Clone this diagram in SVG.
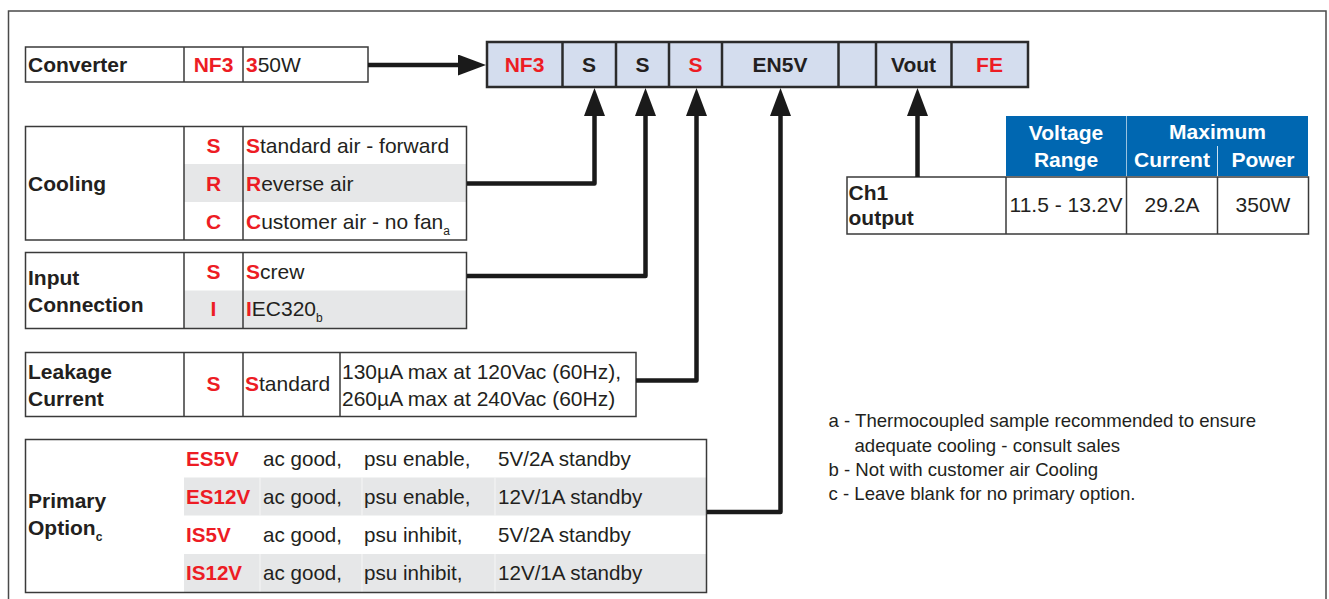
<svg xmlns="http://www.w3.org/2000/svg" width="1329" height="599" viewBox="0 0 1329 599">
<defs>
<style>
.t{font-family:"Liberation Sans",Arial,Helvetica,sans-serif;font-size:21px;fill:#231f20}
.b{font-weight:bold}
.r{fill:#ed1c24}
.w{fill:#ffffff}
.m{text-anchor:middle}
.p{font-size:20.6px}
.n{font-size:18.6px}
.sub{font-size:12px}
.box{fill:none;stroke:#3a3a3a;stroke-width:1.5}
.ln{stroke:#3a3a3a;stroke-width:1.5}
.g{fill:#e6e7e8}
.con{fill:none;stroke:#1a1a1a;stroke-width:4.5;stroke-linejoin:round}
</style>
<marker id="ah" viewBox="0 0 28 21" refX="18" refY="10.5" markerWidth="28" markerHeight="21" markerUnits="userSpaceOnUse" orient="auto">
<path d="M0,0 L28,10.5 L0,21 Z" fill="#1a1a1a"/>
</marker>
</defs>
<rect width="1329" height="599" fill="#ffffff"/>
<rect x="8.5" y="11" width="1317.5" height="600" fill="none" stroke="#4a4a4a" stroke-width="1.5"/>

<g id="converter">
<rect class="box" x="25.5" y="47" width="342.5" height="35"/>
<line class="ln" x1="184" y1="47" x2="184" y2="82"/>
<line class="ln" x1="243" y1="47" x2="243" y2="82"/>
<text class="t b" x="28" y="72">Converter</text>
<text class="t b r m" x="213.5" y="72">NF3</text>
<text class="t" x="246" y="72"><tspan class="b r">3</tspan>50W</text>
</g>

<g id="codebar">
<rect x="487" y="42" width="541" height="45" fill="#d4ddee" stroke="#2b2b2b" stroke-width="2.5"/>
<g stroke="#2b2b2b" stroke-width="2.5">
<line x1="562.5" y1="42" x2="562.5" y2="87"/>
<line x1="616" y1="42" x2="616" y2="87"/>
<line x1="669" y1="42" x2="669" y2="87"/>
<line x1="722" y1="42" x2="722" y2="87"/>
<line x1="838.5" y1="42" x2="838.5" y2="87"/>
<line x1="876" y1="42" x2="876" y2="87"/>
<line x1="951.5" y1="42" x2="951.5" y2="87"/>
</g>
<text class="t b r m" x="524.5" y="72">NF3</text>
<text class="t b m" x="589" y="72">S</text>
<text class="t b m" x="642.5" y="72">S</text>
<text class="t b r m" x="695.5" y="72">S</text>
<text class="t b m" x="780" y="72">EN5V</text>
<text class="t b m" x="913.5" y="72">Vout</text>
<text class="t b r m" x="989.5" y="72">FE</text>
</g>

<g id="cooling">
<rect class="g" x="184" y="164" width="282.5" height="38"/>
<rect class="box" x="25.5" y="126.5" width="441" height="113.5"/>
<line class="ln" x1="184" y1="126.5" x2="184" y2="240"/>
<line class="ln" x1="243" y1="126.5" x2="243" y2="240"/>
<text class="t b" x="28" y="191">Cooling</text>
<text class="t b r m" x="213.5" y="152.5">S</text>
<text class="t b r m" x="213.5" y="191">R</text>
<text class="t b r m" x="213.5" y="228.5">C</text>
<text class="t" x="246" y="152.5"><tspan class="b r">S</tspan>tandard air - forward</text>
<text class="t" x="246" y="191"><tspan class="b r">R</tspan>everse air</text>
<text class="t" x="246" y="228.5"><tspan class="b r">C</tspan>ustomer air - no fan<tspan class="sub" dy="6">a</tspan></text>
</g>

<g id="input">
<rect class="g" x="184" y="290.5" width="282.5" height="38"/>
<rect class="box" x="25.5" y="252.5" width="441" height="76"/>
<line class="ln" x1="184" y1="252.5" x2="184" y2="328.5"/>
<line class="ln" x1="243" y1="252.5" x2="243" y2="328.5"/>
<text class="t b" x="28" y="284.5">Input</text>
<text class="t b" x="28" y="312">Connection</text>
<text class="t b r m" x="213.5" y="278.5">S</text>
<text class="t b r m" x="213.5" y="316">I</text>
<text class="t" x="246" y="278.5"><tspan class="b r">S</tspan>crew</text>
<text class="t" x="246" y="316"><tspan class="b r">I</tspan>EC320<tspan class="sub" dy="6">b</tspan></text>
</g>

<g id="leakage">
<rect class="box" x="25.5" y="352.5" width="610.5" height="64"/>
<line class="ln" x1="184" y1="352.5" x2="184" y2="416.5"/>
<line class="ln" x1="243" y1="352.5" x2="243" y2="416.5"/>
<line class="ln" x1="340" y1="352.5" x2="340" y2="416.5"/>
<text class="t b" x="28" y="378.5">Leakage</text>
<text class="t b" x="28" y="406">Current</text>
<text class="t b r m" x="213.5" y="391">S</text>
<text class="t" x="245" y="391"><tspan class="b r">S</tspan>tandard</text>
<text class="t" x="342" y="378.5">130µA max at 120Vac (60Hz),</text>
<text class="t" x="342" y="406">260µA max at 240Vac (60Hz)</text>
</g>

<g id="primary">
<rect class="g" x="184" y="477.5" width="522.5" height="38"/>
<rect class="g" x="184" y="554" width="522.5" height="38"/>
<g stroke="#f6f6f6" stroke-width="1">
<line x1="260" y1="477.5" x2="260" y2="515.5"/>
<line x1="362" y1="477.5" x2="362" y2="515.5"/>
<line x1="495" y1="477.5" x2="495" y2="515.5"/>
<line x1="260" y1="554" x2="260" y2="592"/>
<line x1="362" y1="554" x2="362" y2="592"/>
<line x1="495" y1="554" x2="495" y2="592"/>
</g>
<rect class="box" x="25.5" y="439.5" width="681" height="153"/>
<text class="t b" x="28" y="507.5">Primary</text>
<text class="t b" x="28" y="534.5">Option<tspan class="sub" dy="6">c</tspan></text>
<text class="t p b r" x="186" y="466">ES5V</text>
<text class="t p b r" x="186" y="503.5">ES12V</text>
<text class="t p b r" x="186" y="542">IS5V</text>
<text class="t p b r" x="186" y="580">IS12V</text>
<text class="t p" x="263" y="466">ac good,</text>
<text class="t p" x="263" y="503.5">ac good,</text>
<text class="t p" x="263" y="542">ac good,</text>
<text class="t p" x="263" y="580">ac good,</text>
<text class="t p" x="364" y="466">psu enable,</text>
<text class="t p" x="364" y="503.5">psu enable,</text>
<text class="t p" x="364" y="542">psu inhibit,</text>
<text class="t p" x="364" y="580">psu inhibit,</text>
<text class="t p" x="498" y="466">5V/2A standby</text>
<text class="t p" x="498" y="503.5">12V/1A standby</text>
<text class="t p" x="498" y="542">5V/2A standby</text>
<text class="t p" x="498" y="580">12V/1A standby</text>
</g>

<g id="ch1table">
<rect x="1006" y="116" width="302" height="60" fill="#0067b1"/>
<line x1="1126.5" y1="116" x2="1126.5" y2="176" stroke="#ffffff" stroke-width="1" opacity="0.6"/>
<line x1="1217.5" y1="146" x2="1217.5" y2="176" stroke="#ffffff" stroke-width="1" opacity="0.8"/>
<text class="t b w m" x="1066" y="140">Voltage</text>
<text class="t b w m" x="1066" y="166.5">Range</text>
<text class="t b w m" x="1217.5" y="138.5">Maximum</text>
<text class="t b w m" x="1172" y="166.5">Current</text>
<text class="t b w m" x="1263" y="166.5">Power</text>
<rect class="box" x="847" y="177" width="461.5" height="57"/>
<line class="ln" x1="1006" y1="177" x2="1006" y2="234"/>
<line class="ln" x1="1126.5" y1="177" x2="1126.5" y2="234"/>
<line class="ln" x1="1217.5" y1="177" x2="1217.5" y2="234"/>
<text class="t b" x="848.5" y="200">Ch1</text>
<text class="t b" x="848.5" y="225">output</text>
<text class="t m" x="1066" y="212">11.5 - 13.2V</text>
<text class="t m" x="1172" y="212">29.2A</text>
<text class="t m" x="1263" y="212">350W</text>
</g>

<g id="notes">
<text class="t n" x="828.5" y="427">a - Thermocoupled sample recommended to ensure</text>
<text class="t n" x="854.5" y="452">adequate cooling - consult sales</text>
<text class="t n" x="828.5" y="475.5">b - Not with customer air Cooling</text>
<text class="t n" x="828.5" y="499.5">c - Leave blank for no primary option.</text>
</g>

<g id="connectors">
<path class="con" d="M368,65 H476" marker-end="url(#ah)"/>
<path class="con" d="M467,183.5 H594.5 V98" marker-end="url(#ah)"/>
<path class="con" d="M467,276 H645.5 V98" marker-end="url(#ah)"/>
<path class="con" d="M636,380.5 H696.5 V98" marker-end="url(#ah)"/>
<path class="con" d="M707,512 H780.5 V98" marker-end="url(#ah)"/>
<path class="con" d="M917.5,177 V98" marker-end="url(#ah)"/>
</g>
</svg>
